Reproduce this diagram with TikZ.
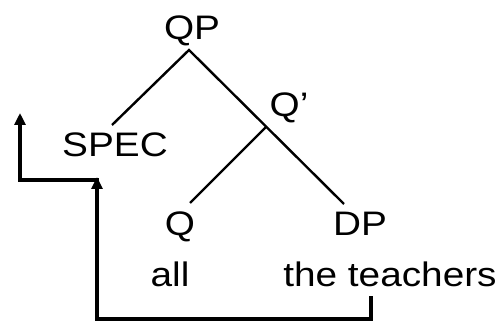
\documentclass[tikz,border=0pt]{standalone}
\usepackage{fontspec}
\setmainfont{Liberation Sans}
\usetikzlibrary{arrows.meta}
\tikzset{
  lbl/.style={anchor=base, inner sep=0pt, font=\fontsize{34}{40}\selectfont},
  branch/.style={line width=2.4pt, black},
  mover/.style={line width=3.4pt, black, -{Triangle[length=12pt,width=11pt]}},
}
\newcommand{\wide}[1]{\scalebox{1.14}[1]{#1}}
\begin{document}
\begin{tikzpicture}[x=1pt,y=-1pt]
\useasboundingbox (0,0) rectangle (499,321);
\node[lbl] (qp) at (192,40) {\wide{QP}};
\node[lbl] (spec) at (115,157) {\wide{SPEC}};
\node[lbl] (qbar) at (289,117) {\wide{Q’}};
\node[lbl] (q) at (180,236) {\wide{Q}};
\node[lbl] (dp) at (360,236) {\wide{DP}};
\node[lbl] (all) at (170,287) {\wide{all}};
\node[lbl] (teach) at (390,287) {\wide{the teachers}};
\coordinate (top) at (189,50);
\coordinate (specend) at (112,125);
\coordinate (junc) at (266,127);
\coordinate (qend) at (190,203);
\coordinate (dpend) at (344,204);
\coordinate (t1) at (371,296);
\coordinate (t2) at (371,319);
\coordinate (t3) at (97,319);
\coordinate (t4) at (97,177);
\coordinate (s1) at (98.7,180);
\coordinate (s2) at (20,180);
\coordinate (s3) at (20,113);
\draw[branch] (specend) -- (top) -- (dpend);
\draw[branch] (junc) -- (qend);
\draw[mover, line cap=butt] (t1) -- (t2) -- (t3) -- (t4);
\draw[mover] (s1) -- (s2) -- (s3);
\end{tikzpicture}
\end{document}
